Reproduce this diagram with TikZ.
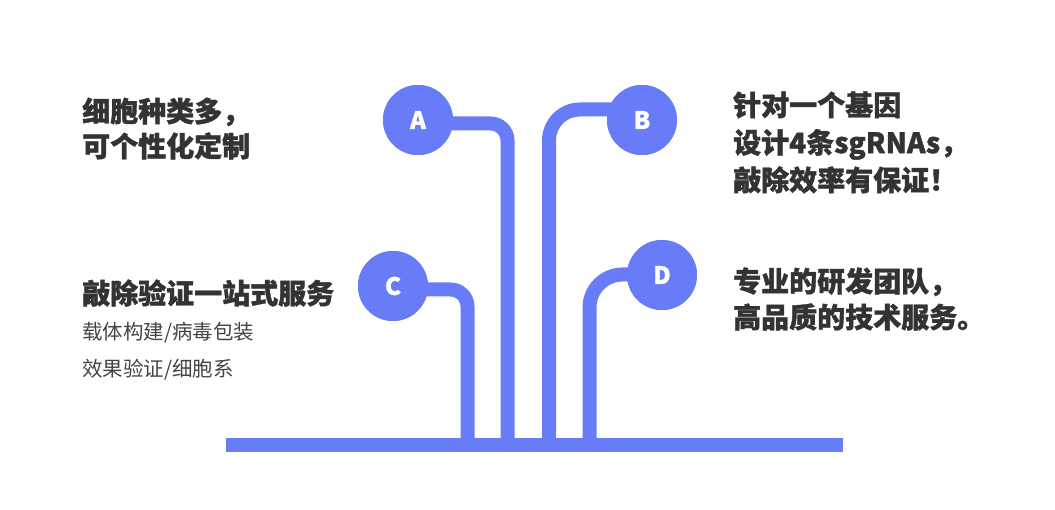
\documentclass[tikz,border=0pt]{standalone}
\usepackage{fontspec}
\setmainfont{Noto Sans CJK SC}
\newfontfamily\heavyfont{Noto Sans CJK SC}[BoldFeatures={FakeBold=1.3}]
\definecolor{branch}{RGB}{104,124,247}
\definecolor{ink}{RGB}{51,51,51}
\definecolor{subink}{RGB}{68,68,68}
\tikzset{
  branchline/.style={line width=14pt,draw=branch,rounded corners=#1},
  branchline/.default=17pt,
  ball/.style={circle,fill=branch,minimum size=70pt,inner sep=0pt,
    text=white,font=\heavyfont\bfseries\fontsize{24}{24}\selectfont},
  headline/.style={anchor=west,inner sep=0pt,align=left,text=ink,
    font=\heavyfont\bfseries\fontsize{28}{#1}\selectfont},
  headline/.default=36,
  subline/.style={anchor=west,inner sep=0pt,align=left,text=subink,
    font=\fontsize{20.5}{37}\selectfont}
}
\begin{document}
\begin{tikzpicture}[x=1pt,y=-1pt]
\useasboundingbox (0,0) rectangle (1055,510);

\coordinate (baseL) at (226,445);
\coordinate (baseR) at (843,445);
\coordinate (footC) at (467.5,445);
\coordinate (footA) at (507.5,445);
\coordinate (footB) at (549,445);
\coordinate (footD) at (589.5,445);

\node[ball] (A) at (418,120) {};
\node[ball] (B) at (642,120) {};
\node[ball] (C) at (393,286) {};
\node[ball] (D) at (662,275) {};

% stems into the ground line
\draw[branchline=17pt] ([yshift=-3.5pt]A.center) -| (footA);
\draw[branchline=31pt] ([yshift=10.5pt]B.center) -| (footB);
\draw[branchline=17pt] ([yshift=-3.5pt]C.center) -| (footC);
\draw[branchline=33pt] ([yshift=0.5pt]D.center) -| (footD);
\draw[line width=14pt,draw=branch] (baseL) -- (baseR);

\node[ball] at (A) {A};
\node[ball] at (B) {B};
\node[ball] at (C) {C};
\node[ball] at (D) {D};

\node[headline=35] (cells) at (82,128.5) {细胞种类多，\\可个性化定制};
\node[headline] (service) at (82,293) {敲除验证一站式服务};
\node[subline] (steps) at (82,351.5) {载体构建/病毒包装\\效果验证/细胞系};
\node[headline=37.5] (guides) at (733,142.5) {针对一个基因\\设计4条sgRNAs，\\敲除效率有保证！};
\node[headline] (team) at (733,299) {专业的研发团队，\\高品质的技术服务。};
\end{tikzpicture}
\end{document}
